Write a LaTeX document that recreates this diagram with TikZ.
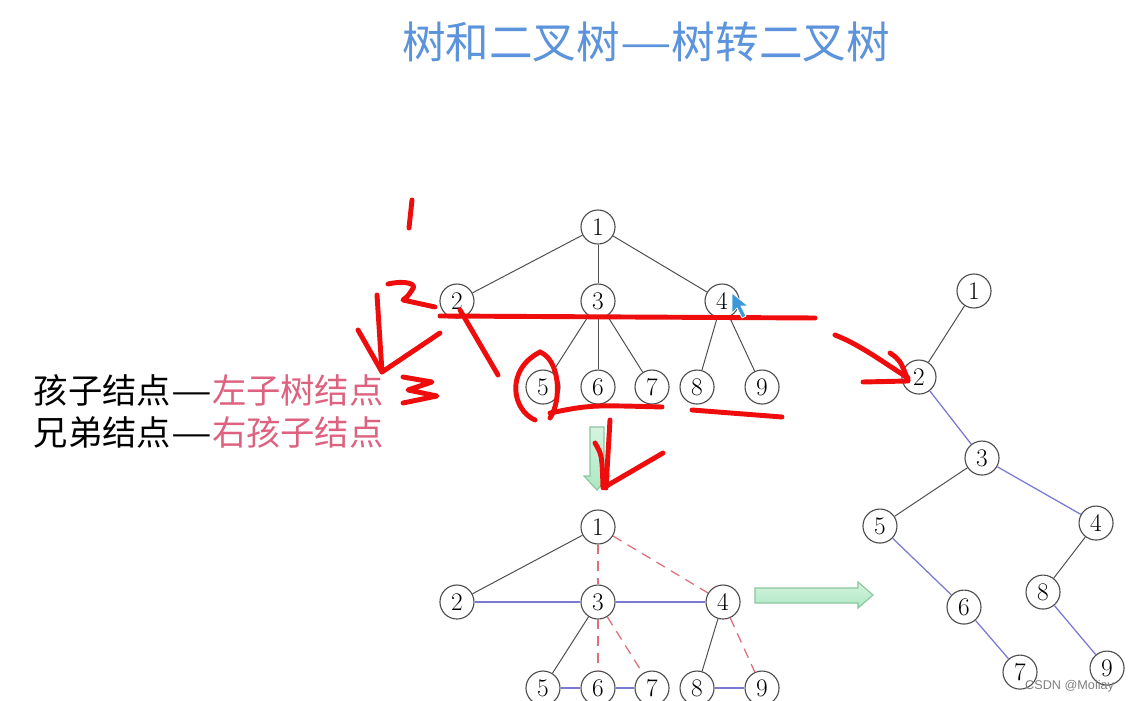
\documentclass[tikz,border=0pt]{standalone}
\usepackage{graphicx}
\usepackage{fontspec}
\newfontfamily\cjk{Noto Sans CJK SC}
\newfontfamily\wmfont{Liberation Sans}
\usetikzlibrary{positioning}
\definecolor{titleblue}{RGB}{91,147,220}
\definecolor{pinktext}{RGB}{222,98,128}
\definecolor{sibblue}{RGB}{122,122,212}
\definecolor{dashred}{RGB}{222,110,122}
\definecolor{penred}{RGB}{238,12,12}
\definecolor{arrowgreen}{RGB}{172,232,194}
\definecolor{arrowedge}{RGB}{138,198,158}
\definecolor{edgegray}{RGB}{78,78,78}
\newcommand{\wdash}{\scalebox{1.33}[1]{—}}

\begin{document}
\begin{tikzpicture}[x=0.025cm, y=-0.025cm, on grid,
  vtx/.style={circle, draw=edgegray, line width=0.8pt, fill=white, minimum size=0.85cm, inner sep=0pt, font=\fontsize{18}{18}\selectfont},
  tedge/.style={draw=edgegray, line width=0.7pt},
  sib/.style={draw=sibblue, line width=0.9pt},
  cut/.style={draw=dashred, line width=0.9pt, dash pattern=on 7pt off 5pt},
  pen/.style={draw=penred, line width=3.5pt, line cap=round, line join=round},
  fatarrow/.style={draw=arrowedge, line width=0.8pt, top color=arrowgreen!50, bottom color=arrowgreen}]
   \useasboundingbox[fill=white] (0,0) rectangle (1132,701);

   \node[font=\cjk\fontsize{31}{34}\selectfont, text=titleblue] (title) at (646,42) {树和二叉树\wdash 树转二叉树};
   \node[anchor=west, font=\cjk\fontsize{24.4}{28}\selectfont] (kid) at (29,390) {孩子结点\wdash\textcolor{pinktext}{左子树结点}};
   \node[anchor=west, font=\cjk\fontsize{24.4}{28}\selectfont] (sibling) at (29,432) {兄弟结点\wdash\textcolor{pinktext}{右孩子结点}};

   % tree
   \node[vtx] (a1) at (598,227) {1};
   \node[vtx] (a3) [below=1.85cm of a1] {3};
   \node[vtx] (a2) [left=3.525cm of a3] {2};
   \node[vtx] (a4) [right=3.1cm of a3] {4};
   \node[vtx] (a6) [below=2.15cm of a3] {6};
   \node[vtx] (a5) [left=1.375cm of a6] {5};
   \node[vtx] (a7) [right=1.35cm of a6] {7};
   \node[vtx] (a8) [below left=2.15cm and 0.625cm of a4] {8};
   \node[vtx] (a9) [below right=2.15cm and 1cm of a4] {9};

   \path[tedge]
   (a1) edge (a2) edge (a3) edge (a4)
   (a3) edge (a5) edge (a6) edge (a7)
   (a4) edge (a8) edge (a9);

   % tree with sibling links
   \node[vtx] (b1) at (598,527) {1};
   \node[vtx] (b3) [below=1.875cm of b1] {3};
   \node[vtx] (b2) [left=3.525cm of b3] {2};
   \node[vtx] (b4) [right=3.125cm of b3] {4};
   \node[vtx] (b6) [below=2.15cm of b3] {6};
   \node[vtx] (b5) [left=1.375cm of b6] {5};
   \node[vtx] (b7) [right=1.35cm of b6] {7};
   \node[vtx] (b8) [below left=2.15cm and 0.65cm of b4] {8};
   \node[vtx] (b9) [below right=2.15cm and 0.975cm of b4] {9};

   \path[tedge] (b1) edge (b2) (b3) edge (b5) (b4) edge (b8);
   \path[sib] (b2) edge (b3) (b3) edge (b4) (b5) edge (b6) (b6) edge (b7) (b8) edge (b9);
   \path[cut]
   (b1) edge (b3) edge (b4)
   (b3) edge (b6) edge (b7)
   (b4) edge (b9);

   % binary tree
   \node[vtx] (c1) at (974,291) {1};
   \node[vtx] (c2) [below left=2.15cm and 1.375cm of c1] {2};
   \node[vtx] (c3) [below right=2.025cm and 1.575cm of c2] {3};
   \node[vtx] (c5) [below left=1.7cm and 2.55cm of c3] {5};
   \node[vtx] (c4) [below right=1.625cm and 2.85cm of c3] {4};
   \node[vtx] (c6) [below right=2.025cm and 2.1cm of c5] {6};
   \node[vtx] (c7) [below right=1.625cm and 1.4cm of c6] {7};
   \node[vtx] (c8) [below left=1.725cm and 1.325cm of c4] {8};
   \node[vtx] (c9) [below right=1.9cm and 1.6cm of c8] {9};

   \path[tedge] (c1) edge (c2) (c3) edge (c5) (c4) edge (c8);
   \path[sib] (c2) edge (c3) (c3) edge (c4) (c5) edge (c6) (c6) edge (c7) (c8) edge (c9);

   \path[fatarrow] (590,427) -- (604,427) -- (604,476) -- (610,476) -- (597,490) -- (584,476) -- (590,476) -- cycle;
   \path[fatarrow] (755,588) -- (858,588) -- (858,582) -- (873,595) -- (858,608) -- (858,603) -- (755,603) -- cycle;

   % pen marks
   \draw[pen] (412,200) -- (409,228);
   \draw[pen] (388,284) .. controls (406,280) and (418,284) .. (412,290) .. controls (408,296) .. (403,300) -- (435,307);
   \draw[pen] (377,295) -- (382,372) -- (440,333);
   \draw[pen] (358,330) -- (382,372);
   \draw[pen] (403,377) -- (432,382) -- (408,390) -- (437,396) -- (403,403);
   \draw[pen] (440,316) -- (815,318);
   \draw[pen] (460,310) -- (498,375);
   \draw[pen] (540,352) .. controls (505,370) and (512,410) .. (535,420);
   \draw[pen] (540,352) .. controls (560,360) and (562,400) .. (550,418);
   \draw[pen] (550,413) .. controls (590,405) .. (662,407);
   \draw[pen] (692,410) -- (782,417);
   \draw[pen] (610,420) -- (606,488);
   \draw[pen] (595,443) .. controls (602,455) .. (603,488) -- (663,453);
   \draw[pen] (835,335) .. controls (860,345) and (880,360) .. (908,378);
   \draw[pen] (890,353) .. controls (900,360) .. (908,380);
   \draw[pen] (863,382) -- (908,381);

   \filldraw[fill=cyan!70!blue!80, draw=white, line width=0.5pt] (732,293) -- (732,313) -- (737,308) -- (742,318) -- (746,316) -- (741,306) -- (748,306) -- cycle;

   \node[font=\wmfont\fontsize{9}{9}\selectfont, text=gray, anchor=east] (mark) at (1119,686) {CSDN @Moliay};
\end{tikzpicture}
\end{document}
